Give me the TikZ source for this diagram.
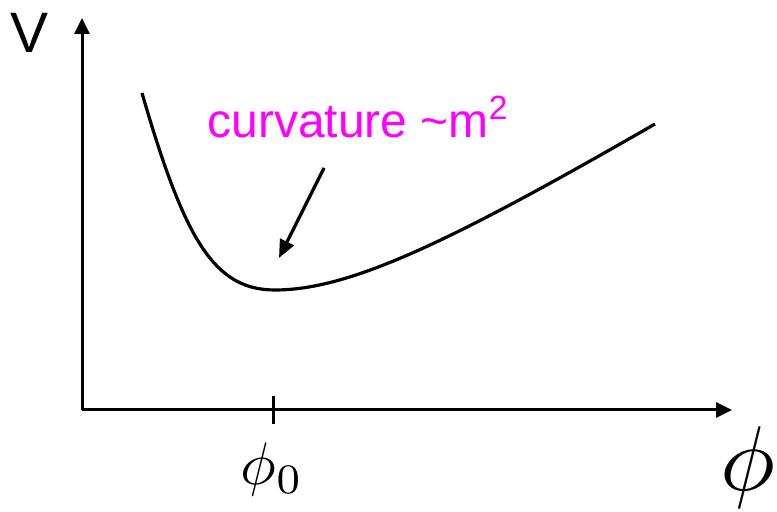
\documentclass[tikz,border=0pt]{standalone}
\usepackage{fontspec}
\newfontfamily\arialfont{Liberation Sans}
\usepackage{tikz}
\usetikzlibrary{arrows.meta}
\definecolor{annot}{RGB}{255,0,255}

\begin{document}
\begin{tikzpicture}[
      x=0.5pt, y=0.5pt,
      axis/.style={-{Triangle[length=8pt, width=7.5pt]}, line width=1.5pt},
      pointer/.style={-{Triangle[length=9pt, width=7.5pt]}, line width=1.6pt},
      potential/.style={line width=1.6pt},
      lbl/.style={inner sep=0pt, anchor=base}]
    \useasboundingbox (0,0) rectangle (777,512);
    % axes
    \coordinate (origin) at (82,102);
    \coordinate (vtop) at (82,494);
    \coordinate (phiend) at (732,102);
    \draw[axis] (origin) -- (vtop);
    \draw[axis] (origin) -- (phiend);
    % tick at the minimum
    \coordinate (tickbot) at (273,88);
    \coordinate (ticktop) at (273,116);
    \draw[line width=1.5pt] (tickbot) -- (ticktop);
    % axis labels
    \node[lbl] (vlabel) at (30,459) {\fontsize{28.5}{30}\selectfont\arialfont V};
    \node[lbl, scale=3] (phizero) at (272,27) {$\phi_0$};
    \node[lbl, scale=4.6] (philabel) at (748,21) {$\phi$};
    % potential curve
    \coordinate (vleft) at (142,419);
    \coordinate (vmin) at (275,222);
    \coordinate (vright) at (655,388);
    \draw[potential] (vleft) .. controls (185,270) and (215,222) .. (vmin)
                     .. controls (350,222) and (450,270) .. (vright);
    % annotation
    \node[lbl, anchor=base west, text=annot] (curv) at (207,374)
      {\fontsize{24}{26}\selectfont\arialfont curvature \textasciitilde m\textsuperscript{2}};
    \coordinate (armtail) at (324,344);
    \coordinate (armtip) at (279,254);
    \draw[pointer] (armtail) -- (armtip);
\end{tikzpicture}
\end{document}
